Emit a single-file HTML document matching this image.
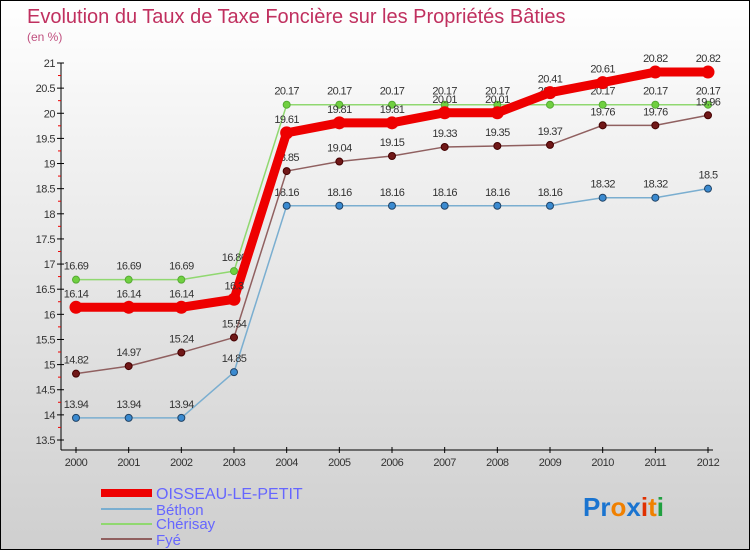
<!DOCTYPE html>
<html><head><meta charset="utf-8"><style>
body{margin:0}
#wrap{width:748px;height:548px;border:1px solid #000;background:linear-gradient(#fff 0%,#f0f0f0 30%,#cfcfcf 100%);position:relative;overflow:hidden;font-family:"Liberation Sans",sans-serif}
text{font-family:"Liberation Sans",sans-serif}
</style></head><body>
<div id="wrap">
<svg id="chart" width="748" height="548">
<text x="26" y="22" font-size="20" fill="#c0305f">Evolution du Taux de Taxe Foncière sur les Propriétés Bâties</text>
<text x="26" y="40" font-size="12" fill="#c0507f">(en %)</text>
<g id="axes"></g><g id="series"></g>
<g>
<rect x="100" y="488" width="51" height="8" fill="#e00"/>
<text x="155" y="498" font-size="16" fill="#66f">OISSEAU-LE-PETIT</text>
<rect x="100" y="507" width="51" height="2" fill="#7aaed0"/>
<text x="155" y="514" font-size="15" fill="#66f">Béthon</text>
<rect x="100" y="522" width="51" height="2" fill="#90d870"/>
<text x="155" y="528" font-size="15" fill="#66f">Chérisay</text>
<rect x="100" y="537" width="51" height="2" fill="#906060"/>
<text x="155" y="544" font-size="15" fill="#66f">Fyé</text>
</g>
<g font-size="26" font-weight="bold">
<text x="582" y="515"><tspan fill="#1a74d0">Pr</tspan><tspan fill="#f08000">o</tspan><tspan fill="#1a74d0">x</tspan><tspan fill="#e03000">i</tspan><tspan fill="#f08000">t</tspan><tspan fill="#20a040">i</tspan></text>
</g>
</svg>
<script>
const years=[2000,2001,2002,2003,2004,2005,2006,2007,2008,2009,2010,2011,2012];
const yTicks=[13.5,14,14.5,15,15.5,16,16.5,17,17.5,18,18.5,19,19.5,20,20.5,21];
const oisseau=[16.14,16.14,16.14,16.3,19.61,19.81,19.81,20.01,20.01,20.41,20.61,20.82,20.82];
const bethon=[13.94,13.94,13.94,14.85,18.16,18.16,18.16,18.16,18.16,18.16,18.32,18.32,18.5];
const cherisay=[16.69,16.69,16.69,16.86,20.17,20.17,20.17,20.17,20.17,20.17,20.17,20.17,20.17];
const fye=[14.82,14.97,15.24,15.54,18.85,19.04,19.15,19.33,19.35,19.37,19.76,19.76,19.96];
const NS="http://www.w3.org/2000/svg";
const X=i=>75+i*(707-75)/(years.length-1);
const Y=v=>62+(21-v)*(439-62)/7.5;
function mk(t,a,p){const e=document.createElementNS(NS,t);for(const k in a)e.setAttribute(k,a[k]);p.appendChild(e);return e;}
const ax=document.getElementById('axes');
let l=mk('line',{x1:60,y1:62,x2:60,y2:449,stroke:'#000'},ax);


l=mk('line',{x1:60,y1:449,x2:712,y2:449,stroke:'#000'},ax);


yTicks.forEach((v,i)=>{const y=Y(v);
mk('line',{x1:56,y1:y,x2:63,y2:y,stroke:'#000'},ax);
if(i<yTicks.length-1)mk('line',{x1:57,y1:y-12.6,x2:60,y2:y-12.6,stroke:'#e00'},ax);
const t=mk('text',{x:54,y:y+4,'font-size':11,fill:'#333','text-anchor':'end','letter-spacing':'-0.5'},ax);t.textContent=v;

});
years.forEach((yr,i)=>{const x=X(i);mk('line',{x1:x,y1:446,x2:x,y2:452,stroke:'#000'},ax);
const t=mk('text',{x:x,y:465,'font-size':11,fill:'#333','text-anchor':'middle','letter-spacing':'-0.5'},ax);t.textContent=yr;

});
const sg=document.getElementById('series');
function series(d,name,col,w,r,dot,dotStroke){const g=mk('g',{},sg);


mk('polyline',{points:d.map((v,i)=>X(i)+','+Y(v)).join(' '),fill:'none',stroke:col,'stroke-width':w,'stroke-linejoin':'round'},g);
d.forEach((v,i)=>{const c=mk('circle',{cx:X(i),cy:Y(v),r:r,fill:dot,stroke:dotStroke,'stroke-width':1},g);


const t=mk('text',{x:X(i),y:Y(v)-10,'font-size':11,fill:'#333','text-anchor':'middle','letter-spacing':'-0.6'},g);t.textContent=v;

});}
series(bethon,'bethon','#7aaed0',1.5,3.5,'#3a8ad0','#246');
series(cherisay,'cherisay','#90d870',1.5,3.5,'#70d040','#5a3');
series(fye,'fye','#906060',1.5,3.5,'#701818','#400');
series(oisseau,'oisseau','#ee0000',9,6,'#ee0000','#e00');
</script>
</div>
</body></html>
